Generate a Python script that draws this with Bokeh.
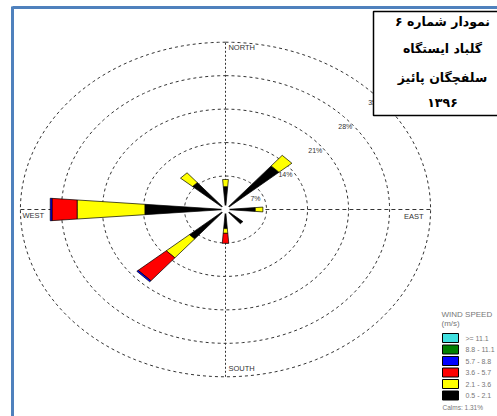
import math
from bokeh.plotting import figure
from bokeh.models import Range1d
from bokeh.embed import file_html
from bokeh.resources import INLINE
from bokeh.core.properties import value

# ---------------- data ----------------
directions = ["N", "NE", "E", "SE", "S", "SW", "W", "NW"]
dir_angles = [0, 45, 90, 135, 180, 225, 270, 315]
speed_labels = ["0.5 - 2.1", "2.1 - 3.6", "3.6 - 5.7", "5.7 - 8.8", "8.8 - 11.1", ">= 11.1"]
speed_colors = ["#000000", "#ffff00", "#ff0000", "#0000ff", "#007f00", "#40e0e0"]
freq_05_21 = [4.8, 12.0, 5.1, 3.9, 4.0, 8.1, 13.8, 7.4]
freq_21_36 = [1.5, 2.9, 1.3, 0.0, 1.0, 5.2, 11.6, 2.7]
freq_36_57 = [0.0, 0.0, 0.0, 0.0, 2.1, 6.3, 4.3, 0.0]
freq_57_88 = [0.0, 0.0, 0.0, 0.0, 0.0, 0.3, 0.3, 0.0]
freq_88_111 = [0.0, 0.0, 0.0, 0.0, 0.0, 0.0, 0.0, 0.0]
freq_ge_111 = [0.0, 0.0, 0.0, 0.0, 0.0, 0.0, 0.0, 0.0]
calms_pct = 1.31
ring_values = [7, 14, 21, 28, 35]
compass_labels = ["NORTH", "EAST", "SOUTH", "WEST"]
title_lines = ["نمودار شماره ۶", "گلباد ایستگاه", "سلفچگان پائیز", "۱۳۹۶"]

# ---------------- layout ----------------
W, H = 497, 416
PX_X, PX_Y = 5.86, 4.78          # pixels per percent (horizontal / vertical)
CX, CY = 225, 209                 # rose centre in pixels (from top-left)

p = figure(width=W, height=H, output_backend="svg", toolbar_location=None,
           x_range=Range1d(-CX / PX_X, (W - CX) / PX_X),
           y_range=Range1d(-(H - CY) / PX_Y, CY / PX_Y),
           x_axis_location=None, y_axis_location=None, min_border=0)
p.grid.visible = False
p.outline_line_color = None
p.background_fill_color = "white"
p.border_fill_color = "white"


def fx(px):
    return (px - CX) / PX_X


def fy(py):
    return (CY - py) / PX_Y


# rings
rmax = ring_values[-1]
for r in ring_values:
    th = [math.radians(t) for t in range(0, 361, 2)]
    p.line([r * math.sin(t) for t in th], [r * math.cos(t) for t in th],
           line_color="#333333", line_width=1, line_dash="3 3")
# axes
p.line([0, 0], [-rmax, rmax], line_color="#333333", line_width=1, line_dash="2 2")
p.line([-rmax, rmax], [0, 0], line_color="#333333", line_width=1, line_dash="4 3")

# bars
classes = [freq_05_21, freq_21_36, freq_36_57, freq_57_88, freq_88_111, freq_ge_111]
hw = 4.5
xs, ys, cols = [], [], []
for i, a in enumerate(dir_angles):
    r0 = 0.0
    for k, series in enumerate(classes):
        v = series[i]
        if v <= 0:
            continue
        r1 = r0 + v
        pts = [(r0, a - hw), (r1, a - hw), (r1, a + hw), (r0, a + hw)]
        xs.append([r * math.sin(math.radians(t)) for r, t in pts])
        ys.append([r * math.cos(math.radians(t)) for r, t in pts])
        cols.append(speed_colors[k])
        r0 = r1
p.patches(xs, ys, fill_color=cols, line_color="#000000", line_width=0.7)
p.scatter([0], [0], size=8, fill_color="white", line_color=None)

# ring labels
p.text([r * 0.73 for r in ring_values], [r * 0.714 - 2.6 for r in ring_values],
       text=[f"{r}%" for r in ring_values], text_font=value("Liberation Sans"),
       text_font_size="7px", text_color="#333333", text_align="center", text_baseline="middle")

# compass labels
p.text([0.5, rmax * 0.87, 0.5, -rmax * 0.99], [rmax * 0.97, -1.5, -rmax * 0.95, -1.25],
       text=compass_labels, text_font=value("Liberation Sans"), text_font_size="7.5px",
       text_color="#333333", text_align="left", text_baseline="middle")

# legend
p.text([fx(441)], [fy(314)], text=["WIND SPEED"],
       text_font=value("Liberation Sans"), text_font_size="8px", text_color="#777777",
       text_align="left", text_baseline="middle")
p.text([fx(441)], [fy(323)], text=["(m/s)"],
       text_font=value("Liberation Sans"), text_font_size="8px", text_color="#777777",
       text_align="left", text_baseline="middle")
n = len(speed_labels)
box_tops = [333 + 11.5 * j for j in range(n)]
leg_cols = list(reversed(speed_colors))
leg_labels = list(reversed(speed_labels))
p.quad(left=[fx(442)] * n, right=[fx(458)] * n,
       top=[fy(t) for t in box_tops], bottom=[fy(t + 9) for t in box_tops],
       fill_color=leg_cols, line_color="#000000", line_width=1)
p.text([fx(465)] * n, [fy(t + 4.5) for t in box_tops], text=leg_labels,
       text_font=value("Liberation Sans"), text_font_size="7px", text_color="#777777",
       text_align="left", text_baseline="middle")
p.text([fx(442)], [fy(407)], text=[f"Calms: {calms_pct:.2f}%"],
       text_font=value("Liberation Sans"), text_font_size="6.5px", text_color="#777777",
       text_align="left", text_baseline="middle")

# title box (open on the right, it runs past the page edge)
p.quad(left=[fx(373)], right=[fx(600)], top=[fy(11)], bottom=[fy(115)],
       fill_color="white", line_color=None)
p.line([fx(600), fx(373), fx(373), fx(600)], [fy(11), fy(11), fy(115), fy(115)],
       line_color="#000000", line_width=1.5)
p.text([fx(442)] * 4, [fy(21), fy(48), fy(77), fy(102)], text=title_lines,
       text_font=value("DejaVu Sans"), text_font_style="bold", text_font_size="12.5px",
       text_color="#000000", text_align="center", text_baseline="middle")

# blue frame
p.line([fx(12), fx(12)], [fy(6), fy(420)], line_color="#4f81bd", line_width=3)
p.line([fx(12), fx(600)], [fy(7), fy(7)], line_color="#4f81bd", line_width=3)

open("out.html", "w").write(file_html(p, INLINE))
